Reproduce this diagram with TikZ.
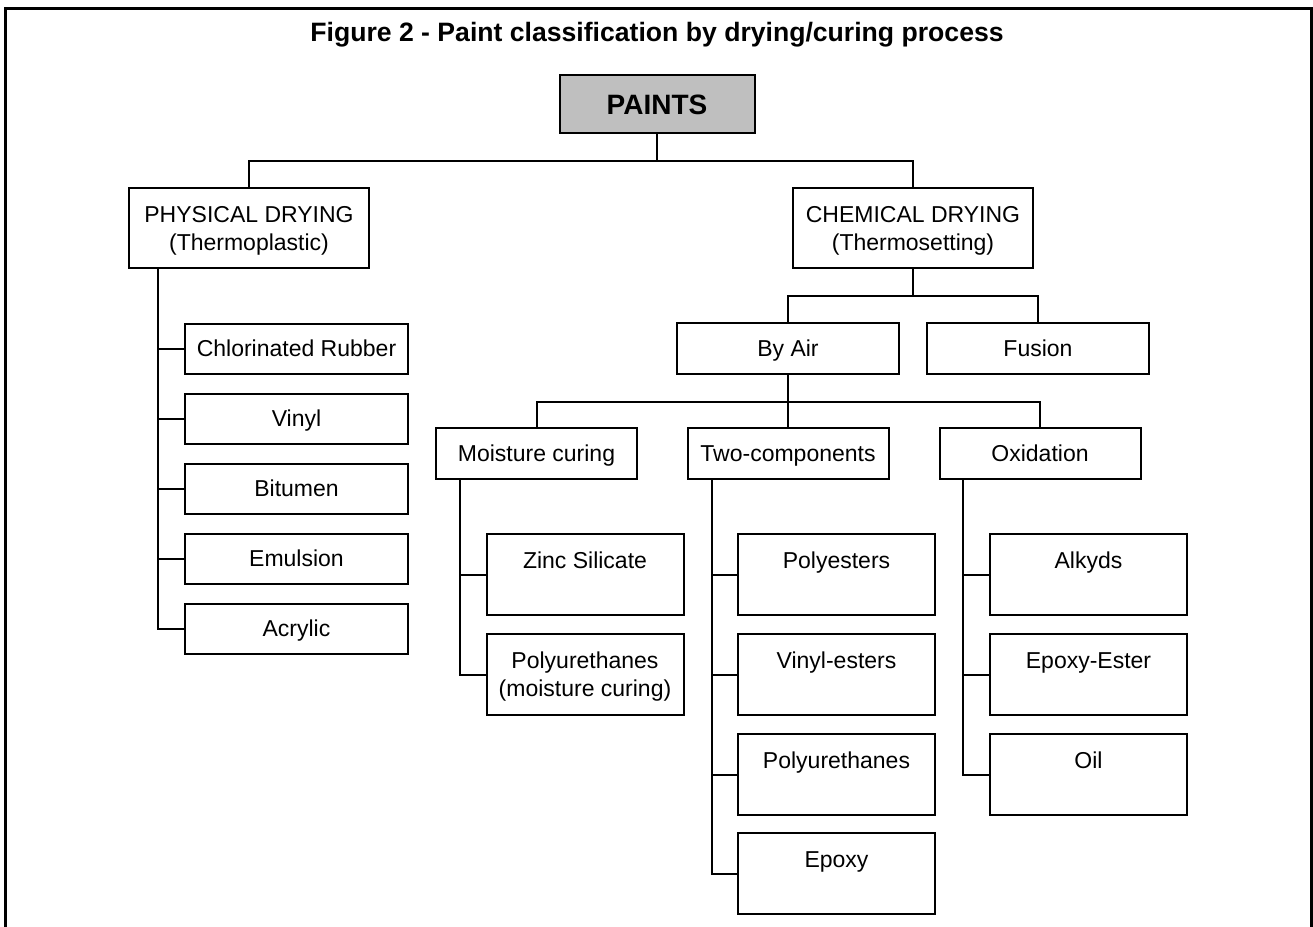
\documentclass[tikz,border=0pt]{standalone}
\usepackage{fontspec}
\setmainfont{Liberation Sans}
% strut that centres capitals in a box
\newcommand\lift{\rule[-2.9pt]{0pt}{14pt}}
\begin{document}
\begin{tikzpicture}[
  x=0.5pt, y=-0.5pt,
  every node/.style={align=center, font=\fontsize{11.5}{14}\selectfont},
  box/.style={draw, line width=1pt, inner sep=0pt},
  rootbox/.style={box, fill=gray!50, minimum width=97.5pt, minimum height=29pt, font=\fontsize{14}{16}\selectfont\bfseries},
  groupbox/.style={box, minimum width=120pt, minimum height=40pt},
  typebox/.style={box, minimum width=111.5pt, minimum height=25pt},
  modebox/.style={box, minimum width=111pt, minimum height=25.5pt},
  subbox/.style={box, minimum width=100.5pt, minimum height=25.5pt},
  leafbox/.style={box, minimum width=98.5pt, minimum height=40.5pt},
  link/.style={line width=1pt}]

\useasboundingbox (0,0) rectangle (1313,927);

% Frame and title
\draw[line width=1.5pt] (5,930) -- (5,8.5) -- (1311,8.5) -- (1311,930);
\node[font=\fontsize{13.3}{16}\selectfont\bfseries] (title) at (657,35) {Figure 2 - Paint classification by drying/curing process};

% Position the nodes at their coordinates
\node[rootbox] (paints) at (657,104) {\rule[-2pt]{0pt}{14pt}PAINTS};

\node[groupbox] (physical) at (249,228) {\lift PHYSICAL DRYING\\(Thermoplastic)\lift};
\node[groupbox] (chemical) at (913,228) {\lift CHEMICAL DRYING\\(Thermosetting)\lift};

\node[typebox] (rubber) at (296.5,348.5) {\lift Chlorinated Rubber};
\node[typebox] (vinyl) at (296.5,418.5) {\lift Vinyl};
\node[typebox] (bitumen) at (296.5,488.5) {\lift Bitumen};
\node[typebox] (emulsion) at (296.5,558.5) {\lift Emulsion};
\node[typebox] (acrylic) at (296.5,628.5) {\lift Acrylic};

\node[modebox] (byAir) at (788,348.5) {\lift By Air};
\node[modebox] (fusion) at (1038,348.5) {\lift Fusion};

\node[subbox] (moisture) at (536.5,453.5) {\lift Moisture curing};
\node[subbox] (twoComp) at (788,453.5) {\lift Two-components};
\node[subbox] (oxidation) at (1040,453.5) {\lift Oxidation};

\node[leafbox] (zinc) at (585,574.5) {\lift Zinc Silicate\\\lift};
\node[leafbox] (polyMoist) at (585,674.5) {\lift Polyurethanes\\(moisture curing)\lift};

\node[leafbox] (polyesters) at (836.5,574.5) {\lift Polyesters\\\lift};
\node[leafbox] (vinylEsters) at (836.5,674.5) {\lift Vinyl-esters\\\lift};
\node[leafbox] (polyurethanes) at (836.5,774.5) {\lift Polyurethanes\\\lift};
\node[leafbox] (epoxy) at (836.5,873.5) {\lift Epoxy\\\lift};

\node[leafbox] (alkyds) at (1088.5,574.5) {\lift Alkyds\\\lift};
\node[leafbox] (epoxyEster) at (1088.5,674.5) {\lift Epoxy-Ester\\\lift};
\node[leafbox] (oil) at (1088.5,774.5) {\lift Oil\\\lift};

% Bus points and trunks of the tree
\coordinate (paintsBus) at (657,161);
\coordinate (chemicalBus) at (913,296);
\coordinate (byAirBus) at (788,402);
\coordinate (physicalTrunk) at (158,268);
\coordinate (moistureTrunk) at (460,479);
\coordinate (twoCompTrunk) at (712,479);
\coordinate (oxidationTrunk) at (963,479);

% Draw the connectors between the nodes
\draw[link] (paints.south) -- (paintsBus);
\draw[link] (physical.north) |- (paintsBus) -| (chemical.north);

\draw[link] (physicalTrunk) |- (acrylic.west);
\draw[link] (physicalTrunk |- rubber.west) -- (rubber.west);
\draw[link] (physicalTrunk |- vinyl.west) -- (vinyl.west);
\draw[link] (physicalTrunk |- bitumen.west) -- (bitumen.west);
\draw[link] (physicalTrunk |- emulsion.west) -- (emulsion.west);

\draw[link] (chemical.south) -- (chemicalBus);
\draw[link] (byAir.north) |- (chemicalBus) -| (fusion.north);

\draw[link] (byAir.south) -- (twoComp.north);
\draw[link] (moisture.north) |- (byAirBus) -| (oxidation.north);

\draw[link] (moistureTrunk) |- (polyMoist.west);
\draw[link] (moistureTrunk |- zinc.west) -- (zinc.west);

\draw[link] (twoCompTrunk) |- (epoxy.west);
\draw[link] (twoCompTrunk |- polyesters.west) -- (polyesters.west);
\draw[link] (twoCompTrunk |- vinylEsters.west) -- (vinylEsters.west);
\draw[link] (twoCompTrunk |- polyurethanes.west) -- (polyurethanes.west);

\draw[link] (oxidationTrunk) |- (oil.west);
\draw[link] (oxidationTrunk |- alkyds.west) -- (alkyds.west);
\draw[link] (oxidationTrunk |- epoxyEster.west) -- (epoxyEster.west);

\end{tikzpicture}
\end{document}
